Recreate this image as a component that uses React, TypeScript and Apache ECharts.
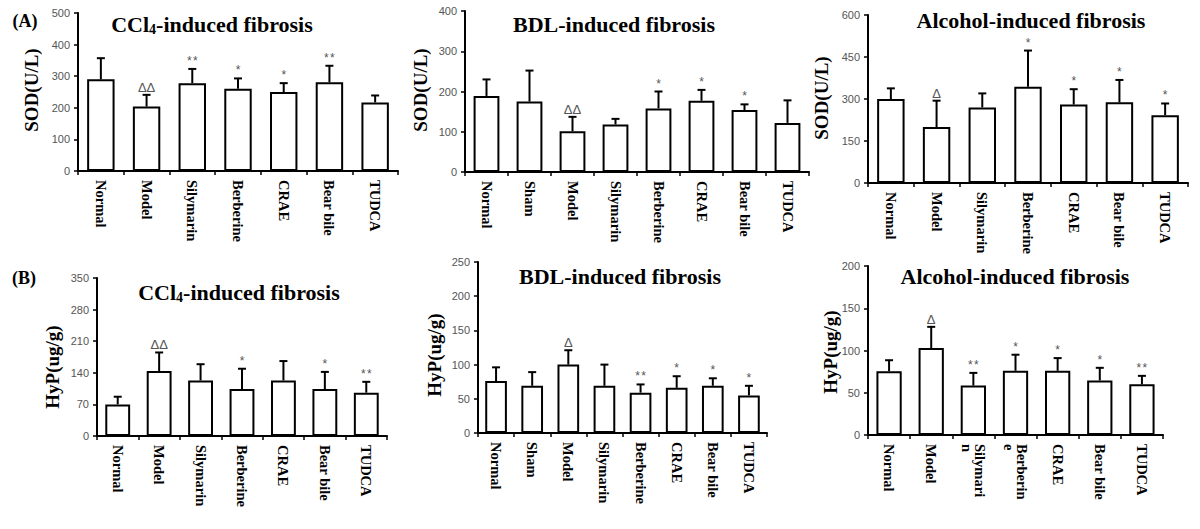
import React, { useEffect, useRef } from 'react';
import * as echarts from 'echarts';

// ---------- data ----------
const cats7 = ['Normal', 'Model', 'Silymarin', 'Berberine', 'CRAE', 'Bear bile', 'TUDCA'];
const cats8 = ['Normal', 'Sham', 'Model', 'Silymarin', 'Berberine', 'CRAE', 'Bear bile', 'TUDCA'];
const cats7b = ['Normal', 'Model', 'Silymari\nn', 'Berberin\ne', 'CRAE', 'Bear bile', 'TUDCA'];

const sodCcl4Mean = [290, 204, 278, 260, 250, 281, 217];
const sodCcl4Sd = [67, 37, 45, 33, 28, 52, 22];
const sodCcl4Sig = ['', 'ΔΔ', '**', '*', '*', '**', ''];

const sodBdlMean = [189, 175, 101, 118, 158, 177, 154, 122];
const sodBdlSd = [41, 77, 36, 14, 42, 27, 14, 56];
const sodBdlSig = ['', '', 'ΔΔ', '', '*', '*', '*', ''];

const sodAlcMean = [300, 200, 270, 344, 280, 288, 242];
const sodAlcSd = [38, 94, 50, 129, 55, 80, 42];
const sodAlcSig = ['', 'Δ', '', '*', '*', '*', '*'];

const hypCcl4Mean = [70, 144, 123, 104, 123, 104, 96];
const hypCcl4Sd = [17, 41, 36, 45, 43, 38, 24];
const hypCcl4Sig = ['', 'ΔΔ', '', '*', '', '*', '**'];

const hypBdlMean = [76, 69, 100, 69, 59, 66, 69, 55];
const hypBdlSd = [20, 20, 21, 31, 12, 17, 11, 14];
const hypBdlSig = ['', '', 'Δ', '', '**', '*', '*', '*'];

const hypAlcMean = [75.5, 103, 58.5, 76, 76, 64.5, 60];
const hypAlcSd = [13, 25, 15, 19, 15, 15, 10];
const hypAlcSig = ['', 'Δ', '**', '*', '*', '*', '**'];

const sodMax = [500, 400, 600];
const sodInterval = [100, 100, 150];
const hypMax = [350, 250, 200];
const hypInterval = [70, 50, 50];

const titleCcl4 = '{a|CCl}{s|4}{a|-induced fibrosis}';
const titleBdl = '{a|BDL-induced fibrosis}';
const titleAlc = '{a|Alcohol-induced fibrosis}';
const sodName = 'SOD(U/L)';
const hypName = 'HyP(ug/g)';

// ---------- layout ----------
const panels = [
  { cats: cats7, mean: sodCcl4Mean, sd: sodCcl4Sd, sig: sodCcl4Sig, max: sodMax[0], interval: sodInterval[0],
    grid: { left: 78, top: 13, width: 320, height: 158 }, title: titleCcl4, tx: 212, ty: 24, name: sodName, nx: 31, ny: 90 },
  { cats: cats8, mean: sodBdlMean, sd: sodBdlSd, sig: sodBdlSig, max: sodMax[1], interval: sodInterval[1],
    grid: { left: 465, top: 11, width: 344, height: 161 }, title: titleBdl, tx: 614, ty: 24, name: sodName, nx: 420, ny: 90 },
  { cats: cats7, mean: sodAlcMean, sd: sodAlcSd, sig: sodAlcSig, max: sodMax[2], interval: sodInterval[2],
    grid: { left: 868, top: 15, width: 320, height: 168 }, title: titleAlc, tx: 1031, ty: 20, name: sodName, nx: 821, ny: 98 },
  { cats: cats7, mean: hypCcl4Mean, sd: hypCcl4Sd, sig: hypCcl4Sig, max: hypMax[0], interval: hypInterval[0],
    grid: { left: 97, top: 278, width: 290, height: 158 }, title: titleCcl4, tx: 239, ty: 292, name: hypName, nx: 52, ny: 367 },
  { cats: cats8, mean: hypBdlMean, sd: hypBdlSd, sig: hypBdlSig, max: hypMax[1], interval: hypInterval[1],
    grid: { left: 478, top: 262, width: 289, height: 171 }, title: titleBdl, tx: 620, ty: 276, name: hypName, nx: 434, ny: 355 },
  { cats: cats7b, mean: hypAlcMean, sd: hypAlcSd, sig: hypAlcSig, max: hypMax[2], interval: hypInterval[2],
    grid: { left: 868, top: 266, width: 295, height: 169 }, title: titleAlc, tx: 1015, ty: 276, name: hypName, nx: 830, ny: 352 },
];

const SERIF = '"Liberation Serif", "Times New Roman", serif';
const SANS = '"Liberation Sans", Arial, sans-serif';

function buildOption() {
  const grids: any[] = [];
  const xAxes: any[] = [];
  const yAxes: any[] = [];
  const series: any[] = [];
  const graphics: any[] = [];

  panels.forEach((p, k) => {
    grids.push({ ...p.grid, containLabel: false });
    xAxes.push({
      type: 'category', gridIndex: k, data: p.cats,
      axisLine: { lineStyle: { color: '#000', width: 2 } },
      axisTick: { show: true, length: 4, lineStyle: { color: '#000', width: 1.5 } },
      axisLabel: { rotate: -90, margin: 9, color: '#000', fontFamily: SERIF, fontWeight: 'bold', fontSize: 14.5, lineHeight: 13, interval: 0 },
      splitLine: { show: false },
    });
    yAxes.push({
      type: 'value', gridIndex: k, min: 0, max: p.max, interval: p.interval,
      axisLine: { show: true, lineStyle: { color: '#000', width: 2 } },
      axisTick: { show: true, length: 4, lineStyle: { color: '#000', width: 1.5 } },
      axisLabel: { color: '#555', fontFamily: SANS, fontSize: 11, margin: 8 },
      splitLine: { show: false },
    });
    series.push({
      type: 'bar', xAxisIndex: k, yAxisIndex: k, data: p.mean, barWidth: '60%',
      itemStyle: { color: '#fff', borderColor: '#000', borderWidth: 2 },
      silent: true,
    });
    const sig = p.sig;
    series.push({
      type: 'custom', xAxisIndex: k, yAxisIndex: k, z: 5,
      data: p.mean.map((m, i) => [i, m, p.sd[i]]),
      encode: { x: 0, y: 1 },
      renderItem: (params: any, api: any) => {
        const i = api.value(0);
        const m = api.value(1);
        const s = api.value(2);
        const p0 = api.coord([i, m]);
        const p1 = api.coord([i, m + s]);
        const t: string = sig[params.dataIndex];
        const isDelta = t.indexOf('Δ') >= 0;
        const children: any[] = [
          { type: 'line', shape: { x1: p0[0], y1: p0[1], x2: p1[0], y2: p1[1] }, style: { stroke: '#000', lineWidth: 2 } },
          { type: 'line', shape: { x1: p1[0] - 4, y1: p1[1], x2: p1[0] + 4, y2: p1[1] }, style: { stroke: '#000', lineWidth: 2 } },
        ];
        if (isDelta) {
          children.push({ type: 'text', x: p1[0], y: p1[1] - 1,
            style: { text: t, fill: '#555', font: '13px ' + SANS, align: 'center', verticalAlign: 'bottom' } });
        } else if (t.length > 0) {
          const chars = t.split('');
          const gap = 6;
          chars.forEach((c, j) => {
            children.push({ type: 'text', x: p1[0] + (j - (chars.length - 1) / 2) * gap, y: p1[1] - 2,
              style: { text: c, fill: '#555', font: '12px ' + SANS, align: 'center', verticalAlign: 'bottom' } });
          });
        }
        return { type: 'group', children };
      },
    });
    graphics.push({
      type: 'text', x: p.tx, y: p.ty,
      style: {
        text: p.title, align: 'center', verticalAlign: 'middle',
        rich: {
          a: { fontFamily: SERIF, fontWeight: 'bold', fontSize: 22, lineHeight: 24, fill: '#000', color: '#000' },
          s: { fontFamily: SERIF, fontWeight: 'bold', fontSize: 14, lineHeight: 14, verticalAlign: 'bottom', fill: '#000', color: '#000' },
        },
      },
    });
    graphics.push({
      type: 'text', x: p.nx, y: p.ny, rotation: Math.PI / 2,
      style: { text: p.name, align: 'center', verticalAlign: 'middle', font: 'bold 19px ' + SERIF, fill: '#000' },
    });
  });

  graphics.push({ type: 'text', x: 25, y: 21, style: { text: '(A)', align: 'center', verticalAlign: 'middle', font: 'bold 18px ' + SERIF, fill: '#000' } });
  graphics.push({ type: 'text', x: 24, y: 278, style: { text: '(B)', align: 'center', verticalAlign: 'middle', font: 'bold 18px ' + SERIF, fill: '#000' } });

  return {
    animation: false,
    backgroundColor: '#fff',
    grid: grids,
    xAxis: xAxes,
    yAxis: yAxes,
    series,
    graphic: graphics,
  };
}

export default function App() {
  const ref = useRef<HTMLDivElement>(null);
  useEffect(() => {
    if (!ref.current) return;
    const chart = echarts.init(ref.current, undefined, { renderer: 'svg' });
    chart.setOption(buildOption());
    return () => chart.dispose();
  }, []);
  return <div ref={ref} style={{ position: 'absolute', left: 0, top: 0, width: 1200, height: 529, background: '#fff' }} />;
}
